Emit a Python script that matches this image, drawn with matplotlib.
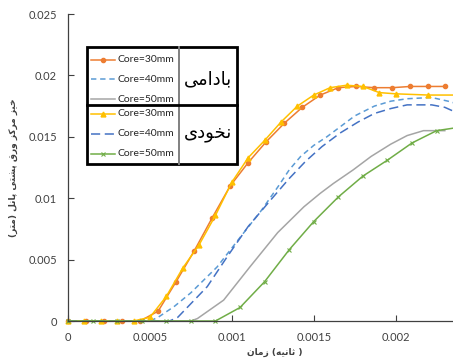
import numpy as np
import matplotlib
matplotlib.use('Agg')
import matplotlib.pyplot as plt
from matplotlib.lines import Line2D
from matplotlib.patches import Rectangle
from matplotlib.ticker import FuncFormatter, MultipleLocator

# --- data (time in s, deflection in m) ---
# badami (almond) core
x_b30 = [0, 0.00011, 0.00022, 0.00033, 0.00044, 0.00055, 0.00066, 0.00077, 0.00088, 0.00099,
         0.0011, 0.00121, 0.00132, 0.00143, 0.00154, 0.00165, 0.00176, 0.00187, 0.00198,
         0.00209, 0.0022, 0.0023]
y_b30 = [0, 0, 0, 0, 0, 0.0008, 0.0032, 0.0057, 0.0084, 0.0110,
         0.0129, 0.0146, 0.0161, 0.0174, 0.0184, 0.0190, 0.0191, 0.0190, 0.0190,
         0.0191, 0.0191, 0.0191]
x_b40 = [0, 0.0005, 0.00055, 0.00065, 0.00075, 0.00091, 0.00105, 0.00118, 0.00128, 0.00135,
         0.00142, 0.0015, 0.00158, 0.00166, 0.00175, 0.00187, 0.00197, 0.00207, 0.00222,
         0.00232, 0.0024]
y_b40 = [0, 0, 0.0003, 0.0012, 0.0023, 0.0044, 0.0068, 0.0090, 0.0109, 0.0123,
         0.0134, 0.0143, 0.0150, 0.0158, 0.0167, 0.0175, 0.0179, 0.0181, 0.0182,
         0.0179, 0.0176]
x_b50 = [0, 0.00075, 0.00079, 0.00095, 0.00111, 0.00128, 0.00144, 0.00154, 0.00162, 0.00174,
         0.00185, 0.00197, 0.00207, 0.00217, 0.0023]
y_b50 = [0, 0, 0.0002, 0.0017, 0.0044, 0.0072, 0.0093, 0.0104, 0.0112, 0.0123,
         0.0134, 0.0144, 0.0151, 0.0155, 0.0155]

# nokhodi (pea) core
x_n30 = [0, 0.0001, 0.0002, 0.0003, 0.0004, 0.0005, 0.0006, 0.0007, 0.0008, 0.0009,
         0.001, 0.0011, 0.0012, 0.0013, 0.0014, 0.0015, 0.0016, 0.0017, 0.0018, 0.0019,
         0.002, 0.0022, 0.0024]
y_n30 = [0, 0, 0, 0, 0, 0.0003, 0.0020, 0.0043, 0.0062, 0.0086,
         0.0113, 0.0133, 0.0147, 0.0162, 0.0175, 0.0184, 0.0190, 0.0192, 0.0191, 0.0186,
         0.0185, 0.0184, 0.0184]
x_n40 = [0, 0.00062, 0.00067, 0.00085, 0.00097, 0.0011, 0.00124, 0.00135, 0.00145, 0.00155,
         0.00166, 0.00177, 0.00187, 0.00197, 0.00207, 0.00222, 0.0023, 0.0024]
y_n40 = [0, 0, 0.0003, 0.0028, 0.0052, 0.0077, 0.0099, 0.0116, 0.0130, 0.0142,
         0.0153, 0.0162, 0.0169, 0.0173, 0.0176, 0.0176, 0.0174, 0.0168]
x_n50 = [0, 0.00015, 0.0003, 0.00045, 0.0006, 0.00075, 0.0009, 0.00105, 0.0012, 0.00135,
         0.0015, 0.00165, 0.0018, 0.00195, 0.0021, 0.00225, 0.0024]
y_n50 = [0, 0, 0, 0, 0, 0, 0, 0.0011, 0.0032, 0.0058,
         0.0081, 0.0101, 0.0118, 0.0131, 0.0145, 0.0155, 0.0158]

labels = ['Core=30mm', 'Core=40mm', 'Core=50mm']

# --- minimal persian shaping (matplotlib has no arabic shaping) ---
FORMS = {
    'ا': ('\uFE8D', '\uFE8E', None, None),
    'ب': ('\uFE8F', '\uFE90', '\uFE91', '\uFE92'),
    'پ': ('\uFB56', '\uFB57', '\uFB58', '\uFB59'),
    'ت': ('\uFE95', '\uFE96', '\uFE97', '\uFE98'),
    'ث': ('\uFE99', '\uFE9A', '\uFE9B', '\uFE9C'),
    'خ': ('\uFEA5', '\uFEA6', '\uFEA7', '\uFEA8'),
    'د': ('\uFEA9', '\uFEAA', None, None),
    'ر': ('\uFEAD', '\uFEAE', None, None),
    'ز': ('\uFEAF', '\uFEB0', None, None),
    'ش': ('\uFEB5', '\uFEB6', '\uFEB7', '\uFEB8'),
    'ق': ('\uFED5', '\uFED6', '\uFED7', '\uFED8'),
    'ک': ('\uFB8E', '\uFB8F', '\uFB90', '\uFB91'),
    'ل': ('\uFEDD', '\uFEDE', '\uFEDF', '\uFEE0'),
    'م': ('\uFEE1', '\uFEE2', '\uFEE3', '\uFEE4'),
    'ن': ('\uFEE5', '\uFEE6', '\uFEE7', '\uFEE8'),
    'ه': ('\uFEE9', '\uFEEA', '\uFEEB', '\uFEEC'),
    'و': ('\uFEED', '\uFEEE', None, None),
    'ی': ('\uFEEF', '\uFEF0', '\uFEF3', '\uFEF4'),
}


def fa(s):
    out = []
    for i, c in enumerate(s):
        if c not in FORMS:
            out.append(c)
            continue
        prev = s[i - 1] if i > 0 else None
        nxt = s[i + 1] if i + 1 < len(s) else None
        p = prev in FORMS and FORMS[prev][2] is not None
        n = nxt in FORMS and FORMS[c][2] is not None
        f = FORMS[c]
        if p and n:
            out.append(f[3])
        elif p:
            out.append(f[1])
        elif n:
            out.append(f[2])
        else:
            out.append(f[0])
    swap = {'(': ')', ')': '('}
    return ''.join(swap.get(ch, ch) for ch in reversed(out))


plt.rcParams['font.family'] = ['Lato', 'DejaVu Sans']

fig = plt.figure(figsize=(4.53, 3.6), dpi=100)
ax = fig.add_axes([68 / 453, 39 / 360, 385 / 453, 307 / 360])

styles = [
    dict(color='#ED7D31', marker='o', ms=3),
    dict(color='#5B9BD5', ls=(0, (3.5, 2.5))),
    dict(color='#A5A5A5'),
    dict(color='#FFC000', marker='^', ms=3.5),
    dict(color='#4472C4', ls=(0, (6, 3))),
    dict(color='#70AD47', marker='x', ms=3.5, mew=0.8),
]
series = [(x_b30, y_b30), (x_b40, y_b40), (x_b50, y_b50),
          (x_n30, y_n30), (x_n40, y_n40), (x_n50, y_n50)]
for (xs, ys), st in zip(series, styles):
    ax.plot(xs, ys, lw=1.1, clip_on=False, **st)

ax.set_xlim(0, 0.00235)
ax.set_ylim(0, 0.025)
ax.xaxis.set_major_locator(MultipleLocator(0.0005))
ax.yaxis.set_major_locator(MultipleLocator(0.005))
fmt = FuncFormatter(lambda v, pos: f'{v:g}')
ax.xaxis.set_major_formatter(fmt)
ax.yaxis.set_major_formatter(fmt)
for s in ['top', 'right']:
    ax.spines[s].set_visible(False)
for s in ['left', 'bottom']:
    ax.spines[s].set_color('#404040')
    ax.spines[s].set_linewidth(0.9)
ax.tick_params(direction='in', length=4, width=0.8, color='#404040',
               labelsize=8, labelcolor='#404040', pad=8)

fig.text(13 / 453, 1 - 168 / 360, fa('خیز مرکز ورق پشتی پانل (متر)'), rotation=90,
         ha='center', va='center', fontsize=6.5, family='DejaVu Sans', weight='bold',
         color='#404040')
fig.text(275 / 453, 1 - 352 / 360, fa('زمان') + ' (' + fa('ثانیه') + ' )',
         ha='center', va='center', fontsize=6.5, family='DejaVu Sans', weight='bold',
         color='#404040')


# --- legend drawn as a table like the original ---
def fx(px):
    return px / 453


def fy(py):
    return 1 - py / 360


x0, x1, xm = 87, 237, 179
y0, y1, ymid = 47, 164, 105
fig.add_artist(Line2D([fx(xm), fx(xm)], [fy(y0), fy(y1)], color='#808080', lw=1.4))
fig.add_artist(Line2D([fx(x0), fx(x1)], [fy(ymid), fy(ymid)], color='black', lw=2))
fig.add_artist(Rectangle((fx(x0), fy(y1)), fx(x1) - fx(x0), fy(y0) - fy(y1),
                         fill=False, ec='black', lw=2))

rows = [60, 79, 99, 114, 134, 154]
for i, (st, ry) in enumerate(zip(styles, rows)):
    fig.add_artist(Line2D([fx(91), fx(103), fx(115)], [fy(ry)] * 3, lw=1.1,
                          markevery=[1], **st))
    fig.text(fx(118), fy(ry), labels[i % 3], ha='left', va='center', fontsize=7.5,
             color='#262626')

fig.text(fx(208), fy(79), fa('بادامی'), ha='center', va='center', fontsize=13,
         family='DejaVu Sans', color='black')
fig.text(fx(208), fy(133), fa('نخودی'), ha='center', va='center', fontsize=13,
         family='DejaVu Sans', color='black')

fig.savefig('out.png', dpi=100)
